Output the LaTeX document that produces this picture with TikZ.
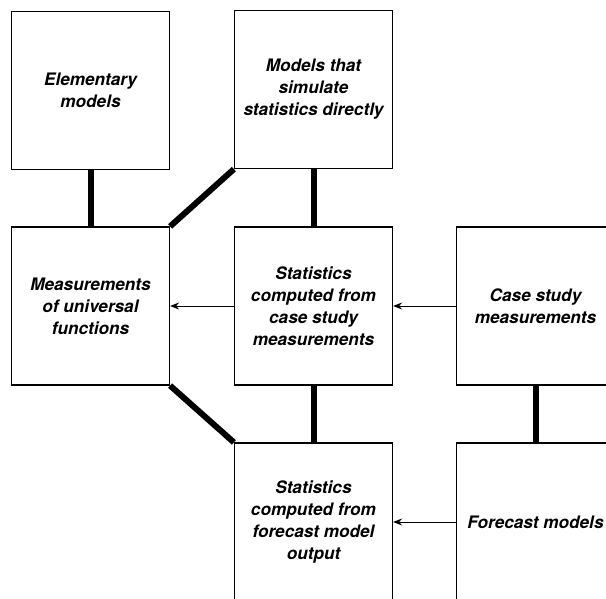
\documentclass[tikz,border=0pt]{standalone}
\usepackage{fontspec}
\setmainfont{TeX Gyre Heros}
\usetikzlibrary{arrows.meta}
\begin{document}
\begin{tikzpicture}[x=1pt,y=-1pt,
  box/.style={draw,line width=1.2pt,minimum width=158pt,minimum height=158pt,inner sep=0pt,
    align=center,font=\fontsize{17.2}{22}\selectfont\bfseries\itshape},
  thick link/.style={line width=6pt},
  flow/.style={line width=0.9pt,-{Stealth[length=9pt,width=7pt]}}]
\useasboundingbox (0,0) rectangle (606,598);
\clip (0,0) rectangle (606,598);
\node[box] (elem) at (90.5,90.5) {Elementary\\models};
\node[box] (sim) at (313.5,89.5) {Models that\\simulate\\statistics directly};
\node[box] (meas) at (90.5,306) {Measurements\\of universal\\functions};
\node[box] (stc) at (313.5,306) {Statistics\\computed from\\case study\\measurements};
\node[box] (csm) at (535.5,306) {Case study\\measurements};
\node[box] (stf) at (313.5,522) {Statistics\\computed from\\forecast model\\output};
\node[box] (fm) at (535.5,522) {Forecast models};
\draw[thick link] (elem.south) -- (meas.north);
\draw[thick link] (sim.south) -- (stc.north);
\draw[thick link] (stc.south) -- (stf.north);
\draw[thick link] (csm.south) -- (fm.north);
\draw[thick link] (meas.north east) -- (sim.south west);
\draw[thick link] (meas.south east) -- (stf.north west);
\draw[flow] (stc.west) -- (meas.east);
\draw[flow] (csm.west) -- (stc.east);
\draw[flow] (fm.west) -- (stf.east);
\end{tikzpicture}
\end{document}
